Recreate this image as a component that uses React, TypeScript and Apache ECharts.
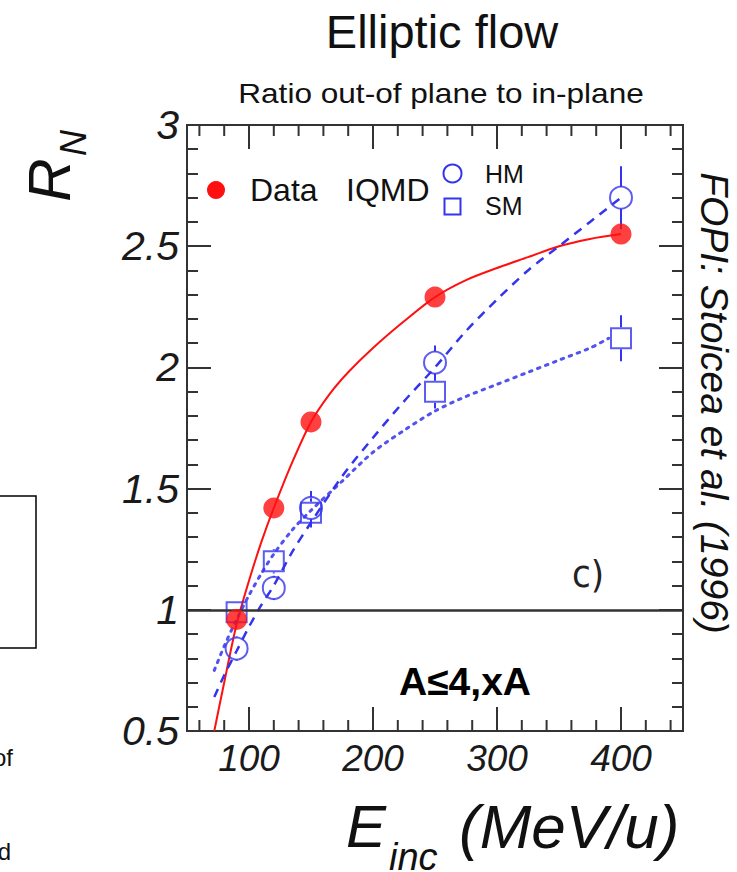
import React, { useEffect, useRef } from "react";
import * as echarts from "echarts";

// ---- measured points ----
const dataE = [90, 120, 150, 250, 400];
const dataR = [0.96, 1.42, 1.775, 2.29, 2.55];

const hmE = [90, 120, 150, 250, 400];
const hmR = [0.84, 1.09, 1.42, 2.02, 2.7];
const hmErr = [0.05, 0.05, 0.07, 0.07, 0.13];

const smE = [90, 120, 150, 250, 400];
const smR = [0.99, 1.2, 1.4, 1.9, 2.12];
const smErr = [0.04, 0.05, 0.06, 0.07, 0.095];

// ---- curves ----
const fitDataE = [72, 80, 90, 100, 110, 120, 135, 150, 165, 180, 200, 225, 250, 275, 300, 325, 350, 375, 400];
const fitDataR = [0.5, 0.7, 0.94, 1.12, 1.28, 1.42, 1.61, 1.775, 1.89, 1.98, 2.08, 2.19, 2.29, 2.36, 2.41, 2.455, 2.5, 2.53, 2.55];

const fitHmE = [72, 80, 90, 100, 110, 120, 135, 150, 175, 200, 225, 250, 275, 300, 325, 350, 375, 400];
const fitHmR = [0.64, 0.73, 0.83, 0.93, 1.02, 1.1, 1.24, 1.36, 1.55, 1.71, 1.86, 2.0, 2.15, 2.28, 2.4, 2.5, 2.6, 2.7];

const fitSmE = [72, 80, 90, 100, 110, 120, 135, 150, 175, 200, 225, 250, 275, 300, 325, 350, 375, 390];
const fitSmR = [0.75, 0.85, 0.96, 1.06, 1.15, 1.23, 1.33, 1.41, 1.53, 1.65, 1.74, 1.82, 1.88, 1.93, 1.98, 2.03, 2.08, 2.12];

// ---- axis ticks ----
const xMajorTicks = [100, 200, 300, 400];
const xMinorTicks = [60, 80, 120, 140, 160, 180, 220, 240, 260, 280, 320, 340, 360, 380, 420, 440];
const xLabels = [100, 200, 300, 400];
const referenceLevel = 1;

const RED = "#ff1010";
const BLUE = "#3434ee";
const FONT = '"Liberation Sans", Arial, sans-serif';

export default function App() {
  const ref = useRef<HTMLDivElement>(null);

  useEffect(() => {
    document.body.style.margin = "0";
    if (!ref.current) return;
    const chart = echarts.init(ref.current, null, { renderer: "svg" });

    const zip = (a: number[], b: number[]) => a.map((v, i) => [v, b[i]]);
    const tickData = [
      ...xMajorTicks.map((v) => [v, 24]),
      ...xMinorTicks.map((v) => [v, 11]),
    ];
    const errData = [
      ...hmE.map((v, i) => [v, hmR[i], hmErr[i]]),
      ...smE.map((v, i) => [v, smR[i], smErr[i]]),
    ];

    const option: any = {
      animation: false,
      grid: {
        left: 187,
        right: 54,
        top: 125,
        bottom: 141,
        show: true,
        borderColor: "#333",
        borderWidth: 2,
        backgroundColor: "transparent",
      },
      xAxis: {
        type: "value",
        min: 50,
        max: 450,
        interval: 50,
        axisLine: { show: false },
        axisTick: { show: false },
        splitLine: { show: false },
        axisLabel: {
          margin: 9,
          fontSize: 37,
          fontStyle: "italic",
          fontFamily: FONT,
          color: "#1a1a1a",
          formatter: (v: number) => (xLabels.indexOf(v) >= 0 ? String(v) : ""),
        },
      },
      yAxis: [
        {
          type: "value",
          min: 0.5,
          max: 3,
          interval: 0.5,
          position: "left",
          axisLine: { show: false },
          axisTick: { show: true, inside: true, length: 24, lineStyle: { color: "#333", width: 2 } },
          minorTick: { show: true, splitNumber: 5, length: 11, lineStyle: { color: "#333", width: 2 } },
          splitLine: { show: false },
          axisLabel: {
            margin: 8,
            fontSize: 41,
            fontStyle: "italic",
            fontFamily: FONT,
            color: "#1a1a1a",
          },
        },
        {
          type: "value",
          min: 0.5,
          max: 3,
          interval: 0.5,
          position: "right",
          axisLine: { show: false },
          axisTick: { show: true, inside: true, length: 24, lineStyle: { color: "#333", width: 2 } },
          minorTick: { show: true, splitNumber: 5, length: 11, lineStyle: { color: "#333", width: 2 } },
          splitLine: { show: false },
          axisLabel: { show: false },
        },
      ],
      series: [
        {
          type: "custom",
          name: "ticks",
          silent: true,
          renderItem: (params: any, api: any) => {
            const v = api.value(0);
            const len = api.value(1);
            const b = api.coord([v, 0.5]);
            const t = api.coord([v, 3]);
            const st = { stroke: "#333", lineWidth: 2 };
            return {
              type: "group",
              children: [
                { type: "line", shape: { x1: b[0], y1: b[1], x2: b[0], y2: b[1] - len }, style: st },
                { type: "line", shape: { x1: t[0], y1: t[1], x2: t[0], y2: t[1] + len }, style: st },
              ],
            };
          },
          data: tickData,
          z: 1,
        },
        {
          type: "line",
          name: "Data fit",
          data: zip(fitDataE, fitDataR),
          smooth: 0.3,
          symbol: "none",
          lineStyle: { color: RED, width: 2 },
          markLine: {
            silent: true,
            symbol: "none",
            label: { show: false },
            lineStyle: { color: "#333", width: 2.5, type: "solid" },
            data: [{ yAxis: referenceLevel }],
          },
          z: 2,
        },
        {
          type: "line",
          name: "HM curve",
          data: zip(fitHmE, fitHmR),
          smooth: 0.3,
          symbol: "none",
          lineStyle: { color: BLUE, width: 2.5, type: [9, 7] },
          z: 2,
        },
        {
          type: "line",
          name: "SM curve",
          data: zip(fitSmE, fitSmR),
          smooth: 0.3,
          symbol: "none",
          lineStyle: { color: BLUE, width: 3, type: [2.5, 6], cap: "round", opacity: 0.85 },
          z: 2,
        },
        {
          type: "custom",
          name: "errors",
          silent: true,
          renderItem: (params: any, api: any) => {
            const x = api.value(0);
            const y = api.value(1);
            const e = api.value(2);
            const top = api.coord([x, y + e]);
            const mid = api.coord([x, y]);
            const bot = api.coord([x, y - e]);
            const r = 11;
            const st = { stroke: BLUE, lineWidth: 2 };
            const children: any[] = [];
            if (mid[1] - r > top[1])
              children.push({ type: "line", shape: { x1: top[0], y1: top[1], x2: top[0], y2: mid[1] - r }, style: st });
            if (bot[1] > mid[1] + r)
              children.push({ type: "line", shape: { x1: bot[0], y1: mid[1] + r, x2: bot[0], y2: bot[1] }, style: st });
            return { type: "group", children };
          },
          data: errData,
          z: 3,
        },
        {
          type: "scatter",
          name: "HM",
          data: zip(hmE, hmR),
          symbol: "circle",
          symbolSize: 22,
          itemStyle: { color: "rgba(0,0,0,0)", borderColor: BLUE, borderWidth: 2 },
          z: 4,
        },
        {
          type: "scatter",
          name: "SM",
          data: zip(smE, smR),
          symbol: "rect",
          symbolSize: 20,
          itemStyle: { color: "rgba(0,0,0,0)", borderColor: BLUE, borderWidth: 2 },
          z: 4,
        },
        {
          type: "scatter",
          name: "Data",
          data: zip(dataE, dataR),
          symbol: "circle",
          symbolSize: 21,
          itemStyle: { color: RED },
          z: 5,
        },
      ],
      graphic: [
        {
          type: "text",
          x: 442,
          y: 31,
          style: { text: "Elliptic flow", font: `47px ${FONT}`, fill: "#111", textAlign: "center", textVerticalAlign: "middle" },
        },
        {
          type: "text",
          x: 441,
          y: 93,
          scaleX: 1.17,
          style: { text: "Ratio out-of plane to in-plane", font: `27px ${FONT}`, fill: "#111", textAlign: "center", textVerticalAlign: "middle" },
        },
        {
          type: "text",
          x: 49,
          y: 180,
          rotation: Math.PI / 2,
          style: { text: "R", font: `italic 60px ${FONT}`, fill: "#111", textAlign: "center", textVerticalAlign: "middle" },
        },
        {
          type: "text",
          x: 73,
          y: 143,
          rotation: Math.PI / 2,
          style: { text: "N", font: `italic 36px ${FONT}`, fill: "#111", textAlign: "center", textVerticalAlign: "middle" },
        },
        {
          type: "text",
          x: 346,
          y: 826,
          style: { text: "E", font: `italic 60px ${FONT}`, fill: "#111", textAlign: "left", textVerticalAlign: "middle" },
        },
        {
          type: "text",
          x: 389,
          y: 857,
          style: { text: "inc", font: `italic 38px ${FONT}`, fill: "#111", textAlign: "left", textVerticalAlign: "middle" },
        },
        {
          type: "text",
          x: 459,
          y: 826,
          style: { text: "(MeV/u)", font: `italic 62px ${FONT}`, fill: "#111", textAlign: "left", textVerticalAlign: "middle" },
        },
        {
          type: "text",
          x: 714,
          y: 403,
          rotation: -Math.PI / 2,
          style: { text: "FOPI: Stoicea et al. (1996)", font: `italic 39px ${FONT}`, fill: "#111", textAlign: "center", textVerticalAlign: "middle" },
        },
        // legend
        { type: "circle", shape: { cx: 216, cy: 190, r: 9 }, style: { fill: RED } },
        {
          type: "text",
          x: 250,
          y: 190,
          style: { text: "Data", font: `32px ${FONT}`, fill: "#111", textAlign: "left", textVerticalAlign: "middle" },
        },
        {
          type: "text",
          x: 346,
          y: 190,
          style: { text: "IQMD", font: `32px ${FONT}`, fill: "#111", textAlign: "left", textVerticalAlign: "middle" },
        },
        { type: "circle", shape: { cx: 452.5, cy: 173.5, r: 9 }, style: { fill: "none", stroke: BLUE, lineWidth: 2 } },
        {
          type: "text",
          x: 485,
          y: 174,
          style: { text: "HM", font: `25px ${FONT}`, fill: "#111", textAlign: "left", textVerticalAlign: "middle" },
        },
        { type: "rect", shape: { x: 444.5, y: 198.5, width: 16, height: 16 }, style: { fill: "none", stroke: BLUE, lineWidth: 2 } },
        {
          type: "text",
          x: 485,
          y: 206,
          style: { text: "SM", font: `25px ${FONT}`, fill: "#111", textAlign: "left", textVerticalAlign: "middle" },
        },
        {
          type: "text",
          x: 588,
          y: 574,
          style: { text: "c)", font: `38px "Liberation Sans Narrow", "DejaVu Sans Condensed", ${FONT}`, fill: "#222", textAlign: "center", textVerticalAlign: "middle" },
        },
        {
          type: "text",
          x: 465,
          y: 681,
          style: { text: "A≤4,xA", font: `bold 39px ${FONT}`, fill: "#000", textAlign: "center", textVerticalAlign: "middle" },
        },
        // fragments of the neighbouring slide content
        { type: "rect", shape: { x: -2, y: 496, width: 38, height: 152 }, style: { fill: "none", stroke: "#000", lineWidth: 1.5 } },
        {
          type: "text",
          x: 13,
          y: 757,
          style: { text: "of", font: `24px ${FONT}`, fill: "#111", textAlign: "right", textVerticalAlign: "middle" },
        },
        {
          type: "text",
          x: 11,
          y: 851,
          style: { text: "d", font: `24px ${FONT}`, fill: "#111", textAlign: "right", textVerticalAlign: "middle" },
        },
      ],
    };

    chart.setOption(option);
    return () => chart.dispose();
  }, []);

  return <div ref={ref} style={{ width: 737, height: 872 }} />;
}
